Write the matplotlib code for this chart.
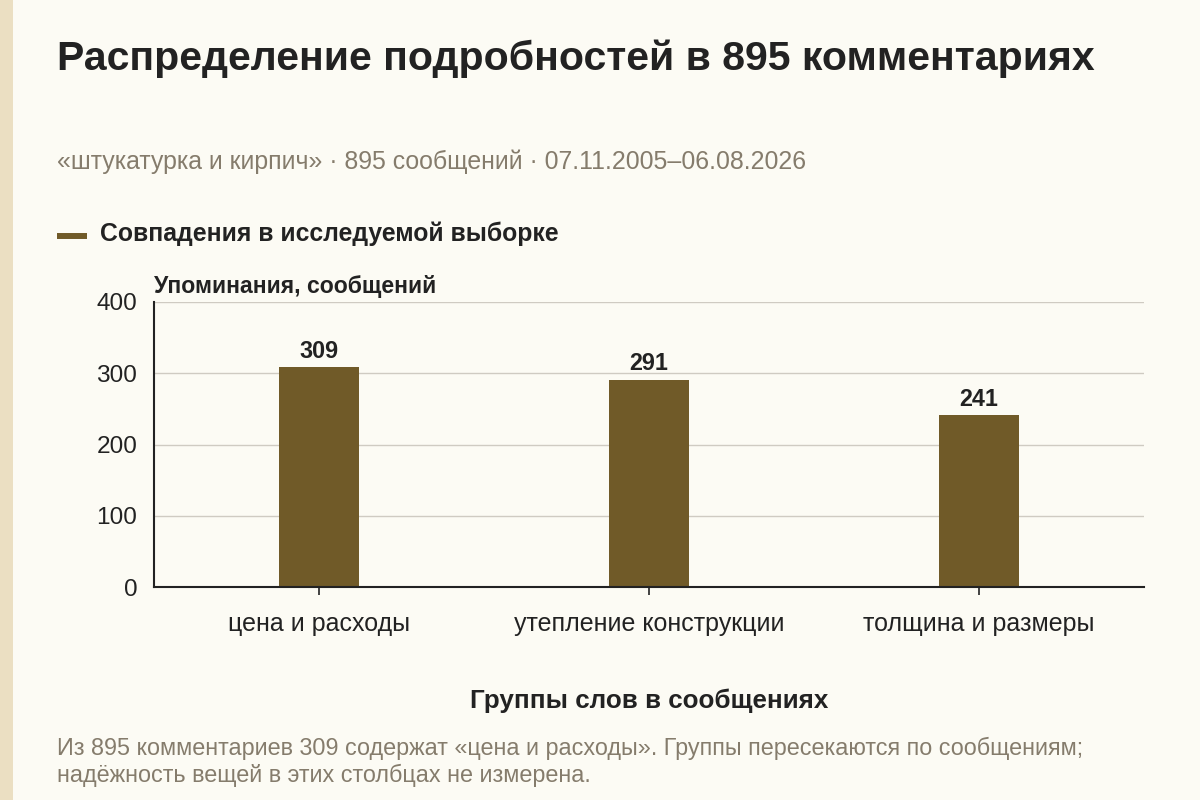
import matplotlib
matplotlib.use('Agg')
import matplotlib.pyplot as plt
from matplotlib.patches import Rectangle
from matplotlib.lines import Line2D

# chart data
categories = ['цена и расходы', 'утепление конструкции', 'толщина и размеры']
counts = [309, 291, 241]
y_ticks = [0, 100, 200, 300, 400]

title = 'Распределение подробностей в 895 комментариях'
subtitle = '«штукатурка и кирпич» · 895 сообщений · 07.11.2005–06.08.2026'
legend_label = 'Совпадения в исследуемой выборке'
y_label = 'Упоминания, сообщений'
x_label = 'Группы слов в сообщениях'
note = ('Из 895 комментариев 309 содержат «цена и расходы». Группы пересекаются по сообщениям;\n'
        'надёжность вещей в этих столбцах не измерена.')

BG = '#FCFBF4'
BAR = '#705A28'
DARK = '#222222'
GRAY = '#857C6C'

plt.rcParams['font.family'] = ['Liberation Sans', 'DejaVu Sans']

fig = plt.figure(figsize=(12, 8), dpi=100, facecolor=BG)

# beige stripe on the left edge
fig.add_artist(Rectangle((0, 0), 13 / 1200, 1, transform=fig.transFigure,
                         facecolor='#EBDFC2', edgecolor='none'))

ax = fig.add_axes([154 / 1200, 1 - 587 / 800, (1144 - 154) / 1200, (587 - 302) / 800])
ax.set_facecolor(BG)

x = range(len(categories))
bars = ax.bar(x, counts, width=0.242, color=BAR, zorder=3)
for xi, v in zip(x, counts):
    ax.text(xi, v + 6, str(v), ha='center', va='bottom', fontsize=16.8,
            fontweight='bold', color=DARK)

ax.set_xlim(-0.5, 2.5)
ax.set_ylim(0, 400)
ax.set_yticks(y_ticks)
ax.set_yticklabels([str(t) for t in y_ticks], fontsize=17.6, color=DARK)
ax.set_xticks(list(x))
ax.set_xticklabels(categories, fontsize=18, color=DARK)
ax.tick_params(axis='y', length=0, pad=12)
ax.tick_params(axis='x', length=6, width=1.2, color=DARK, pad=12)
ax.grid(axis='y', color='#CFCBC2', linewidth=1, zorder=0)
for s in ['top', 'right']:
    ax.spines[s].set_visible(False)
for s in ['left', 'bottom']:
    ax.spines[s].set_color(DARK)
    ax.spines[s].set_linewidth(1.5)
ax.spines['left'].set_zorder(4)
ax.spines['bottom'].set_zorder(4)

# texts
fig.text(57 / 1200, 1 - 59 / 800, title, fontsize=29.5, fontweight='bold',
         color=DARK, ha='left', va='center')
fig.text(57 / 1200, 1 - 162 / 800, subtitle, fontsize=17.9, color=GRAY,
         ha='left', va='center')
fig.add_artist(Line2D([57 / 1200, 87 / 1200], [1 - 236 / 800, 1 - 236 / 800],
                      transform=fig.transFigure, color=BAR, linewidth=4.3,
                      solid_capstyle='butt'))
fig.text(100 / 1200, 1 - 234 / 800, legend_label, fontsize=17.8, fontweight='bold',
         color=DARK, ha='left', va='center')
fig.text(154 / 1200, 1 - 287 / 800, y_label, fontsize=16.6, fontweight='bold',
         color=DARK, ha='left', va='center')
fig.text(649 / 1200, 1 - 701 / 800, x_label, fontsize=18.7, fontweight='bold',
         color=DARK, ha='center', va='center')
fig.text(57 / 1200, 1 - 762 / 800, note, fontsize=16.8, color=GRAY,
         ha='left', va='center', linespacing=1.2)

fig.savefig('out.png', dpi=100, facecolor=BG)
